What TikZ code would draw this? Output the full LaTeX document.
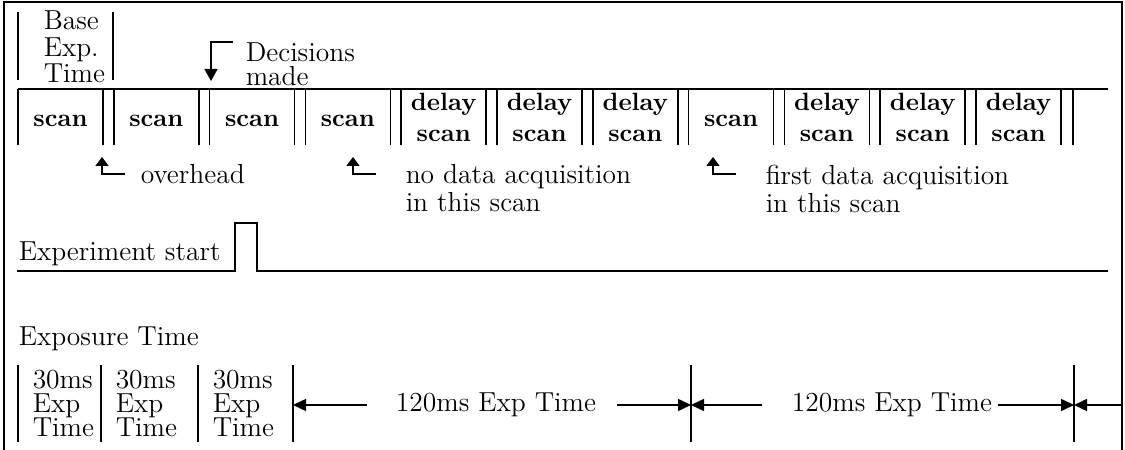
\documentclass[tikz,border=0pt]{standalone}
\usetikzlibrary{arrows.meta}
\begin{document}
\begin{tikzpicture}[x=0.4pt, y=-0.4pt, line width=0.6pt, >={Triangle[length=5.2pt,width=4.8pt]},
    lbl/.style={inner sep=0pt, align=left, font=\fontsize{11}{11.2}\selectfont},
    scn/.style={inner sep=0pt, align=center, font=\fontsize{10}{12.4}\selectfont\bfseries},
    up/.style={-{Triangle[length=3.6pt,width=5.2pt]}}]
    \useasboundingbox (0,0) rectangle (1125,450);
    \draw[line width=0.9pt] (4,450) -- (4,2) -- (1122,2) -- (1122,450);
    \draw (18,12) -- (18,80);
    \draw (113,12) -- (113,80);
    \node[lbl, anchor=north west, font=\fontsize{11}{10.6}\selectfont] (base) at (43,10) {Base\\Exp.\\Time};
    \node[lbl, anchor=north west, font=\fontsize{11}{9.6}\selectfont] (dec) at (245,42) {Decisions\\made};
    \coordinate (d0) at (233,42);
    \coordinate (d1) at (211,81);
    \draw[-{Triangle[length=4.8pt,width=5.2pt]}] (d0) -| (d1);
    \draw (18,89) -- (1108,89);
    \foreach \i in {0,...,10} {
        \pgfmathsetmacro{\l}{18+95.8*\i}
        \draw (\l,89) -- (\l,145);
        \draw (\l+85,89) -- (\l+85,145);
    }
    \draw (1073,89) -- (1073,145);
    \foreach \i in {0,1,2,3,7}
        \node[scn, anchor=base] (s\i) at ({60.5+95.8*\i},127) {scan};
    \foreach \i in {4,5,6,8,9,10}
        \node[scn, anchor=north] (s\i) at ({60.5+95.8*\i},92) {delay\\scan};
    \foreach \x/\n in {102/oh,353/nd,713/fd} {
        \coordinate (\n0) at (\x+23,174);
        \coordinate (\n1) at (\x,157);
        \draw[up] (\n0) -| (\n1);
    }
    \node[lbl, anchor=north west] (oh) at (140,164) {overhead};
    \node[lbl, anchor=north west] (nd) at (405,164) {no data acquisition\\in this scan};
    \node[lbl, anchor=north west] (fd) at (765,164) {first data acquisition\\in this scan};
    \node[lbl, anchor=base west] (es) at (18,261) {Experiment start};
    \coordinate (p0) at (17,271);
    \coordinate (p1) at (1108,271);
    \draw (p0) -- (235,271) -- (235,223) -- (257,223) -- (257,271) -- (p1);
    \node[lbl, anchor=base west] (et) at (18,346) {Exposure Time};
    \foreach \x in {18,101,198,293,691,1074} \draw (\x,365) -- (\x,442);
    \foreach \x/\n in {32/e1,115/e2,212/e3}
        \node[lbl, anchor=north west, font=\fontsize{11}{9.6}\selectfont] (\n) at (\x,369) {30ms\\Exp\\Time};
    \node[lbl] (t1) at (496,405) {120ms Exp Time};
    \node[lbl] (t2) at (892,405) {120ms Exp Time};
    \coordinate (v1) at (293,405);
    \coordinate (v2) at (691,405);
    \coordinate (v3) at (1074,405);
    \coordinate (a1) at (367,405);
    \coordinate (a2) at (617,405);
    \coordinate (a3) at (762,405);
    \coordinate (a4) at (998,405);
    \coordinate (a5) at (1122,405);
    \draw[->] (a1) -- (v1);
    \draw[->] (a2) -- (v2);
    \draw[->] (a3) -- (v2);
    \draw[->] (a4) -- (v3);
    \draw[->] (a5) -- (v3);
\end{tikzpicture}
\end{document}
